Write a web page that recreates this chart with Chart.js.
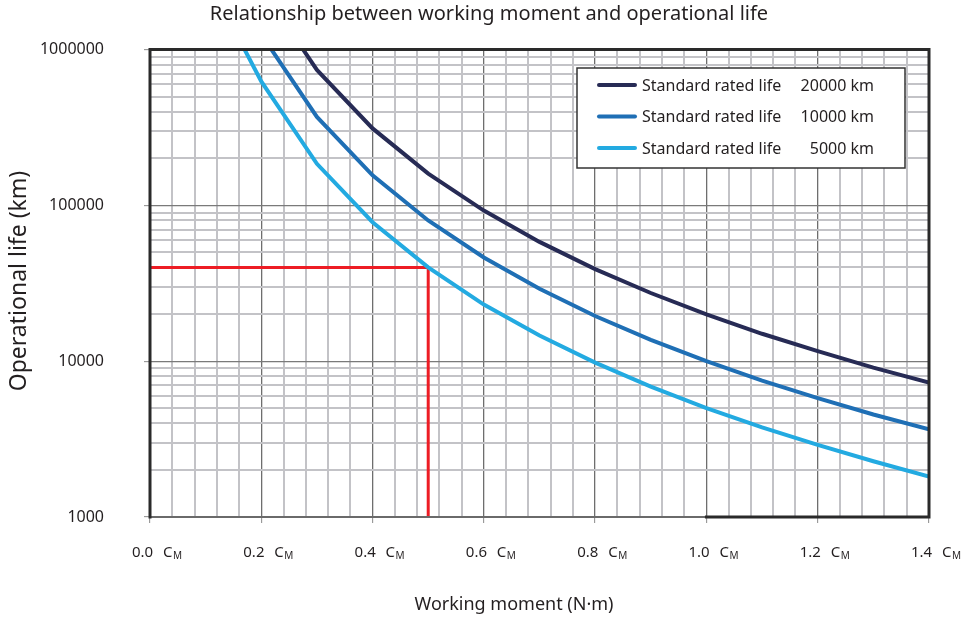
<!DOCTYPE html>
<html>
<head>
<meta charset="utf-8">
<script src="https://cdn.jsdelivr.net/npm/chart.js@4/dist/chart.umd.min.js"></script>
<style>
  body { margin: 0; background: #fff; }
  #wrap { width: 964px; height: 623px; }
</style>
</head>
<body>
<div id="wrap"><canvas id="lifeChart" width="964" height="623"></canvas></div>
<script>
// working moment, in multiples of C_M
var moment = [0.1, 0.2, 0.3, 0.4, 0.5, 0.6, 0.7, 0.8, 0.9, 1.0, 1.1, 1.2, 1.3, 1.4];

// operational life (km) for each rated life
var life20000 = [null, 2500000, 740000, 312000, 160000, 92600, 58300, 39000, 27400, 20000, 15000, 11600, 9100, 7300];
var life10000 = [null, 1250000, 370000, 156000, 80000, 46300, 29200, 19500, 13700, 10000, 7500, 5800, 4550, 3650];
var life5000  = [3000000, 625000, 185000, 78000, 40000, 23100, 14600, 9800, 6860, 5000, 3760, 2900, 2280, 1820];

var ratedLife = [20000, 10000, 5000];
var seriesName = 'Standard rated life';

// example reading: 0.5 C_M -> 40000 km
var readMoment = 0.5;
var readLife = 40000;

var xTickValues = [0.0, 0.2, 0.4, 0.6, 0.8, 1.0, 1.2, 1.4];
var yTickValues = [1000, 10000, 100000, 1000000];

var FONT = '"Noto Sans", sans-serif';
var TEXT = '#231f20';

function toPoints(ys) {
  var pts = [];
  for (var i = 0; i < moment.length; i++) {
    if (ys[i] != null) pts.push({x: moment[i], y: ys[i]});
  }
  return pts;
}

function isMajorX(v) {
  return Math.abs(v / 0.2 - Math.round(v / 0.2)) < 1e-6;
}
function isMajorY(v) {
  var e = Math.log10(v);
  return Math.abs(e - Math.round(e)) < 1e-6;
}

// grid lines at 2..9 within every decade
function logTicks() {
  var out = [];
  for (var d = 0; d < yTickValues.length - 1; d++) {
    for (var k = 1; k < 10; k++) out.push({value: yTickValues[d] * k});
  }
  out.push({value: yTickValues[yTickValues.length - 1]});
  return out;
}

var lineColors = ['#272b55', '#1f6fb5', '#23aae1'];

var framePlugin = {
  id: 'frame',
  afterDraw: function(chart) {
    var ctx = chart.ctx;
    var a = chart.chartArea;
    var xs = chart.scales.x;
    ctx.save();

    // frame: grey bottom edge, dark bar from 1.0 to 1.4
    ctx.lineCap = 'square';
    ctx.strokeStyle = '#6a6a6a';
    ctx.lineWidth = 2;
    ctx.beginPath();
    ctx.moveTo(a.left, a.bottom);
    ctx.lineTo(a.right, a.bottom);
    ctx.stroke();
    ctx.strokeStyle = '#2a2a2a';
    ctx.lineWidth = 3;
    ctx.beginPath();
    ctx.moveTo(xs.getPixelForValue(1.0), a.bottom);
    ctx.lineTo(a.right, a.bottom);
    ctx.moveTo(a.right, a.bottom);
    ctx.lineTo(a.right, a.top);
    ctx.lineTo(a.left, a.top);
    ctx.lineTo(a.left, a.bottom);
    ctx.stroke();

    // x tick labels: "0.2  C" with subscript M
    ctx.fillStyle = TEXT;
    ctx.textBaseline = 'alphabetic';
    ctx.textAlign = 'left';
    xTickValues.forEach(function(v) {
      var px = xs.getPixelForValue(v);
      ctx.font = '15px ' + FONT;
      ctx.fillText(v.toFixed(1), px - 18, 557);
      ctx.fillText('C', px + 13, 557);
      ctx.font = '10px ' + FONT;
      ctx.fillText('M', px + 23, 559);
    });

    // titles
    ctx.textAlign = 'center';
    ctx.textBaseline = 'middle';
    ctx.font = '20px ' + FONT;
    ctx.fillText('Relationship between working moment and operational life', 489, 14);
    ctx.font = '18px ' + FONT;
    ctx.fillText('Working moment (N\u00b7m)', 514, 605);
    ctx.save();
    ctx.translate(19, 281);
    ctx.rotate(-Math.PI / 2);
    ctx.font = '23px ' + FONT;
    ctx.fillText('Operational life (km)', 0, 0);
    ctx.restore();

    // legend box
    var bx = 577, by = 68, bw = 328, bh = 100;
    ctx.fillStyle = '#fff';
    ctx.fillRect(bx, by, bw, bh);
    ctx.strokeStyle = '#333';
    ctx.lineWidth = 1.5;
    ctx.strokeRect(bx, by, bw, bh);
    ctx.font = '16px ' + FONT;
    ctx.lineCap = 'round';
    for (var i = 0; i < ratedLife.length; i++) {
      var ly = 85 + i * 31.5;
      ctx.strokeStyle = lineColors[i];
      ctx.lineWidth = 4;
      ctx.beginPath();
      ctx.moveTo(599, ly);
      ctx.lineTo(635, ly);
      ctx.stroke();
      ctx.fillStyle = TEXT;
      ctx.textAlign = 'left';
      ctx.fillText(seriesName, 642, ly + 1);
      ctx.textAlign = 'right';
      ctx.fillText(ratedLife[i] + ' km', 874, ly + 1);
    }
    ctx.restore();
  }
};

var ctx = document.getElementById('lifeChart').getContext('2d');
var chart = new Chart(ctx, {
  type: 'line',
  data: {
    datasets: [
      {label: seriesName + ' ' + ratedLife[0] + ' km', data: toPoints(life20000), borderColor: lineColors[0]},
      {label: seriesName + ' ' + ratedLife[1] + ' km', data: toPoints(life10000), borderColor: lineColors[1]},
      {label: seriesName + ' ' + ratedLife[2] + ' km', data: toPoints(life5000), borderColor: lineColors[2]},
      {
        label: 'reading',
        data: [{x: 0, y: readLife}, {x: readMoment, y: readLife}, {x: readMoment, y: yTickValues[0]}],
        borderColor: '#ed1c24',
        borderWidth: 3,
        borderJoinStyle: 'miter'
      }
    ]
  },
  options: {
    responsive: false,
    animation: false,
    devicePixelRatio: 1,
    layout: {padding: {top: 45, right: 35, left: 0, bottom: 0}},
    datasets: {
      line: {borderWidth: 4, pointRadius: 0, tension: 0, fill: false, clip: 0}
    },
    plugins: {
      legend: {display: false},
      tooltip: {enabled: false},
      title: {display: false}
    },
    scales: {
      x: {
        type: 'linear',
        min: 0,
        max: 1.4,
        ticks: {display: false, stepSize: 0.04, autoSkip: false},
        afterFit: function(s) { s.height = 106; },
        grid: {
          color: function(c) { return isMajorX(c.tick.value) ? '#6e6e6e' : '#c3c3c7'; },
          lineWidth: function(c) { return isMajorX(c.tick.value) ? 1.3 : 2; },
          tickColor: function(c) { return isMajorX(c.tick.value) ? '#8a8a8a' : 'rgba(0,0,0,0)'; },
          tickWidth: 1,
          tickLength: 6
        },
        border: {display: false}
      },
      y: {
        type: 'logarithmic',
        min: 1000,
        max: 1000000,
        afterBuildTicks: function(s) { s.ticks = logTicks(); },
        afterFit: function(s) { s.width = 150; },
        ticks: {
          autoSkip: false,
          padding: 40,
          color: TEXT,
          font: {family: '"Noto Sans", sans-serif', size: 16},
          callback: function(v) { return isMajorY(v) ? String(v) : ''; }
        },
        grid: {
          color: function(c) { return isMajorY(c.tick.value) ? '#7a7a7a' : '#c3c3c7'; },
          lineWidth: function(c) { return isMajorY(c.tick.value) ? 1.3 : 2; },
          tickColor: function(c) { return isMajorY(c.tick.value) ? '#8a8a8a' : 'rgba(0,0,0,0)'; },
          tickWidth: 1,
          tickLength: 6
        },
        border: {display: false}
      }
    }
  },
  plugins: [framePlugin]
});
</script>
</body>
</html>
